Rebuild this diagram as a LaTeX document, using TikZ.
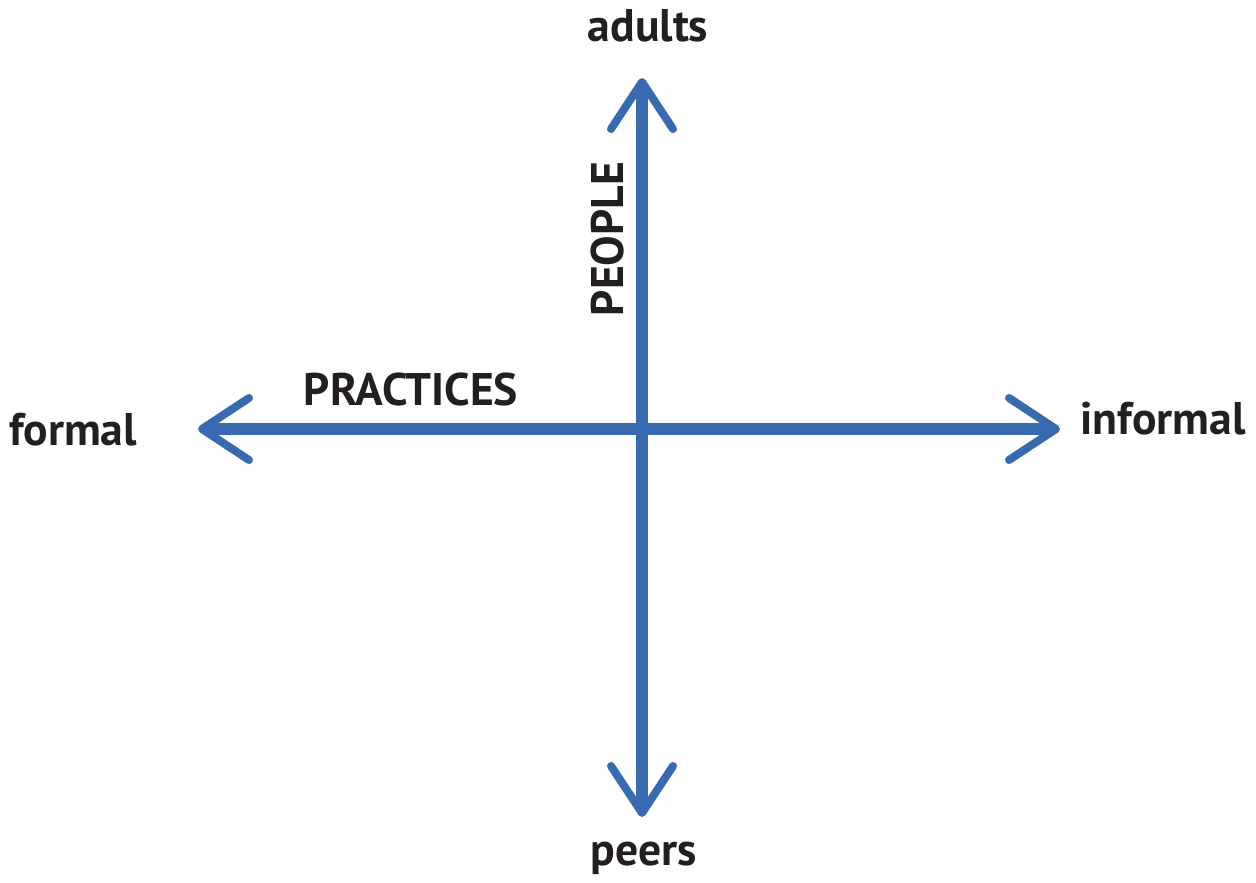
\documentclass[tikz,border=0pt]{standalone}
\usepackage{fontspec}
\setmainfont{PT Sans}
\usetikzlibrary{arrows.meta, calc, positioning}
\definecolor{axisblue}{RGB}{56, 106, 177}
\definecolor{labelblack}{RGB}{35, 31, 32}
\tikzset{axis/.style={draw=axisblue, line width=0.24cm,
    {Straight Barb[round, length=0.94cm, width=1.24cm, line width=0.16cm]}-{Straight Barb[round, length=0.94cm, width=1.24cm, line width=0.16cm]}}}
\tikzset{pole/.style={anchor=base, text=labelblack, font=\fontsize{26}{31}\selectfont\bfseries}}
\tikzset{title/.style={pole}}

\begin{document}
\begin{tikzpicture}[x=0.02cm, y=-0.02cm]
        \useasboundingbox (0, 0) rectangle (1256, 882);

        \coordinate (Ntip) at (642, 78);
        \coordinate (Stip) at (642, 817);
        \coordinate (Wtip) at (198, 429);
        \coordinate (Etip) at (1060, 429);

        \draw [axis] (Wtip) -- (Etip);
        \draw [axis] (Stip) -- (Ntip);

        \node [pole] (Ad) at (648, 42)  { adults };
        \node [pole] (Pe) at (644, 865) { peers };
        \node [pole] (Fo) at (73, 445)  { formal };
        \node [pole] (In) at (1163, 434) { informal };

        \node [title] (Pr) at (411, 405) { PRACTICES };
        \node [title, rotate=90] (Po) at (623, 239) { PEOPLE };
    \end{tikzpicture}
\end{document}
